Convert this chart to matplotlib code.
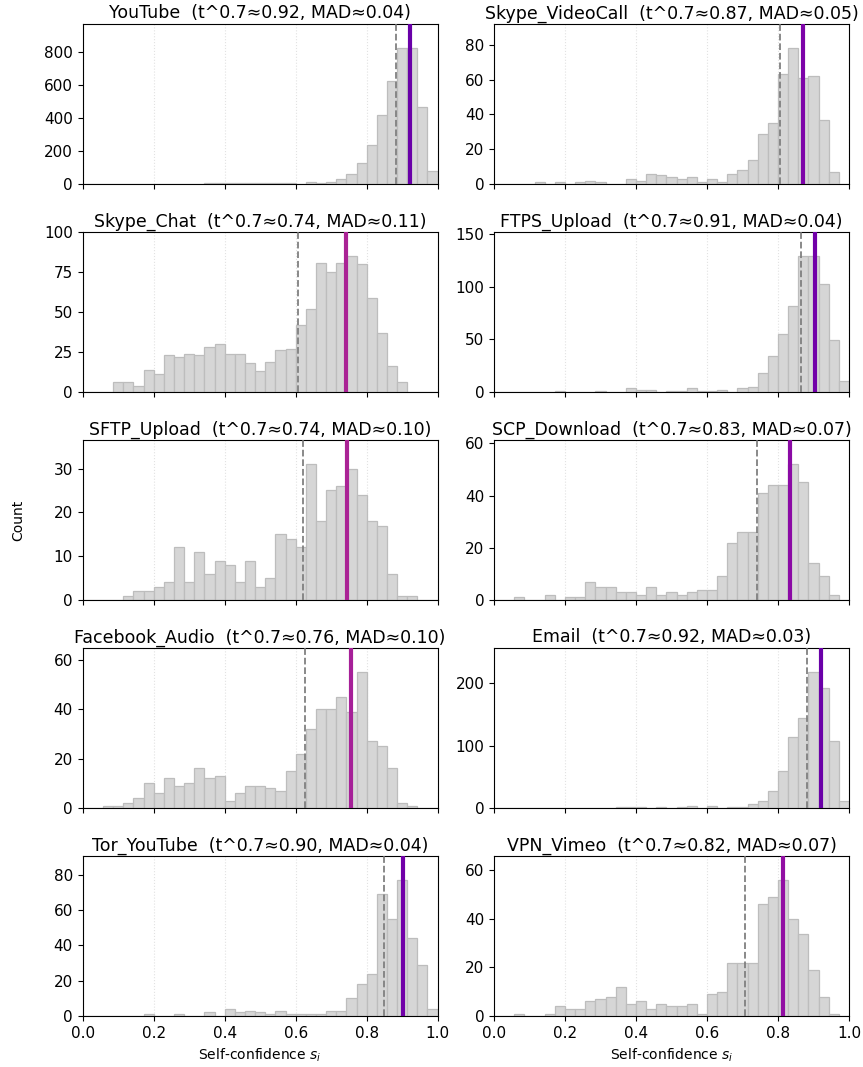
import numpy as np
import matplotlib
matplotlib.use("Agg")
import matplotlib.pyplot as plt

names = ["YouTube", "Skype_VideoCall", "Skype_Chat", "FTPS_Upload", "SFTP_Upload",
         "SCP_Download", "Facebook_Audio", "Email", "Tor_YouTube", "VPN_Vimeo"]
t_label = ["0.92", "0.87", "0.74", "0.91", "0.74", "0.83", "0.76", "0.92", "0.90", "0.82"]
mad_label = ["0.04", "0.05", "0.11", "0.04", "0.10", "0.07", "0.10", "0.03", "0.04", "0.07"]
t_value = [0.922, 0.871, 0.742, 0.905, 0.744, 0.833, 0.755, 0.920, 0.902, 0.815]
q_value = [0.883, 0.807, 0.608, 0.864, 0.622, 0.740, 0.625, 0.883, 0.850, 0.708]

youtube = [0, 0, 0, 0, 0, 0, 0, 0, 2, 3, 3, 3, 4, 4, 4, 5, 5, 8, 7, 6, 5, 3, 12, 7, 10,
           28, 62, 128, 240, 420, 625, 826, 826, 470, 79]
skype_video = [0, 0, 0, 0, 1, 0, 1, 0, 1, 2, 1, 0, 0, 3, 2, 6, 5, 4, 3, 4, 1, 3, 1, 6, 8,
               14, 29, 35, 63, 78, 61, 62, 37, 7, 0]
skype_chat = [0, 0, 0, 6, 6, 4, 14, 11, 23, 22, 24, 23, 28, 30, 24, 24, 18, 13, 19, 26, 27,
              42, 52, 81, 75, 81, 85, 80, 59, 37, 16, 6, 0, 0, 0]
ftps_upload = [0, 0, 0, 0, 0, 0, 1, 0, 0, 0, 1, 0, 0, 4, 2, 2, 0, 1, 1, 4, 1, 1, 2, 0, 4,
               5, 18, 34, 55, 82, 129, 129, 103, 49, 10]
sftp_upload = [0, 0, 0, 0, 1, 2, 2, 3, 4, 12, 4, 11, 6, 9, 8, 4, 9, 3, 5, 15, 14, 12, 31,
               18, 25, 26, 30, 24, 18, 17, 6, 1, 1, 0, 0]
scp_download = [0, 0, 1, 0, 0, 2, 0, 1, 1, 7, 5, 5, 3, 3, 2, 5, 2, 3, 2, 3, 4, 4, 9, 22,
                26, 26, 41, 44, 44, 52, 45, 14, 9, 2, 0]
facebook_audio = [0, 0, 1, 1, 2, 4, 10, 6, 12, 9, 10, 16, 12, 13, 3, 6, 9, 9, 8, 7, 15, 22,
                  32, 40, 40, 45, 39, 55, 27, 25, 16, 2, 1, 0, 0]
email = [0, 0, 0, 0, 0, 0, 0, 0, 0, 0, 0, 0, 1, 2, 2, 0, 1, 0, 1, 3, 0, 3, 0, 1, 1, 6, 12,
         28, 60, 114, 144, 218, 193, 108, 12]
tor_youtube = [0, 0, 0, 0, 0, 0, 1, 0, 0, 1, 0, 0, 2, 0, 4, 2, 3, 2, 1, 3, 1, 1, 1, 1, 3,
               3, 10, 18, 24, 69, 55, 77, 44, 29, 4]
vpn_vimeo = [0, 0, 1, 0, 0, 1, 4, 3, 3, 6, 7, 8, 12, 5, 6, 3, 5, 4, 4, 5, 1, 9, 10, 22, 22,
             22, 46, 49, 56, 40, 34, 19, 8, 1, 0]

counts = [youtube, skype_video, skype_chat, ftps_upload, sftp_upload,
          scp_download, facebook_audio, email, tor_youtube, vpn_vimeo]

n_bins = 35
edges = np.linspace(0.0, 1.0, n_bins + 1)
centers = 0.5 * (edges[:-1] + edges[1:])

W, H = 863, 1067
fig, axes = plt.subplots(5, 2, figsize=(W / 100, H / 100), dpi=100, sharex=True)
fig.subplots_adjust(left=82.7 / W, right=849 / W, top=1 - 24 / H, bottom=1 - 1016 / H,
                    wspace=0.159, hspace=0.30)

cmap = plt.get_cmap("plasma")
for i, ax in enumerate(axes.flat):
    c = np.asarray(counts[i], dtype=float)
    ax.hist(centers, bins=edges, weights=c, facecolor="#d6d6d6", edgecolor="#bdbdbd",
            linewidth=0.9, zorder=2)
    ax.axvline(q_value[i], color="#808080", linestyle="--", linewidth=1.3, zorder=3)
    ax.axvline(t_value[i], color=cmap(1.12 - t_value[i]), linewidth=3.0, zorder=4)
    ax.set_xlim(0, 1)
    ax.set_ylim(0, c.max() * 1.178)
    ax.grid(axis="x", linestyle=":", color="#e2e2e2", linewidth=0.8, zorder=0)
    ax.set_axisbelow(True)
    ax.set_title(f"{names[i]}  (t^0.7\u2248{t_label[i]}, MAD\u2248{mad_label[i]})",
                 fontsize=12.5, pad=4)
    ax.tick_params(labelsize=11)
    ax.set_xticks([0.0, 0.2, 0.4, 0.6, 0.8, 1.0])
    if i >= 8:
        ax.set_xlabel("Self-confidence $s_i$", fontsize=10)

fig.text(18 / W, 0.5 * ((1 - 24 / H) + (1 - 1016 / H)), "Count", rotation=90,
         ha="center", va="center", fontsize=10)

fig.savefig("out.png", dpi=100)
